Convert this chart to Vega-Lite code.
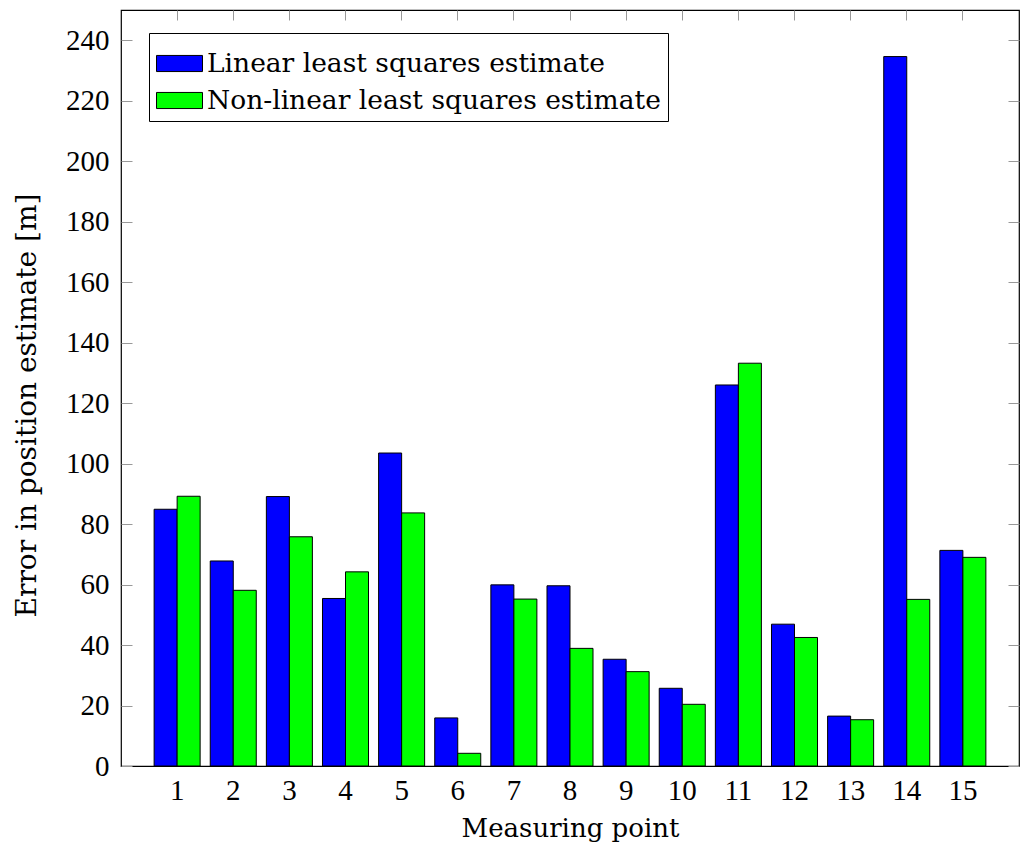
{
  "$schema": "https://vega.github.io/schema/vega-lite/v6.json",
  "autosize": "none",
  "width": 898,
  "height": 756,
  "padding": {"left": 121, "top": 10, "right": 2, "bottom": 83},
  "background": "white",
  "config": {
    "font": "DejaVu Serif",
    "view": {"stroke": "black", "strokeWidth": 1.2},
    "axis": {"labelFont": "Liberation Serif", "titleFont": "DejaVu Serif", "labelFontSize": 29, "titleFontSize": 26, "titleFontWeight": "normal", "labelColor": "black", "titleColor": "black", "domain": false, "grid": false}
  },
  "data": {
    "values": [
      {"point": 1, "method": "Linear least squares estimate", "error": 84.9},
      {"point": 1, "method": "Non-linear least squares estimate", "error": 89.2},
      {"point": 2, "method": "Linear least squares estimate", "error": 67.8},
      {"point": 2, "method": "Non-linear least squares estimate", "error": 58.1},
      {"point": 3, "method": "Linear least squares estimate", "error": 89.1},
      {"point": 3, "method": "Non-linear least squares estimate", "error": 75.8},
      {"point": 4, "method": "Linear least squares estimate", "error": 55.4},
      {"point": 4, "method": "Non-linear least squares estimate", "error": 64.2},
      {"point": 5, "method": "Linear least squares estimate", "error": 103.5},
      {"point": 5, "method": "Non-linear least squares estimate", "error": 83.7},
      {"point": 6, "method": "Linear least squares estimate", "error": 15.9},
      {"point": 6, "method": "Non-linear least squares estimate", "error": 4.2},
      {"point": 7, "method": "Linear least squares estimate", "error": 59.9},
      {"point": 7, "method": "Non-linear least squares estimate", "error": 55.2},
      {"point": 8, "method": "Linear least squares estimate", "error": 59.6},
      {"point": 8, "method": "Non-linear least squares estimate", "error": 38.9},
      {"point": 9, "method": "Linear least squares estimate", "error": 35.3},
      {"point": 9, "method": "Non-linear least squares estimate", "error": 31.2},
      {"point": 10, "method": "Linear least squares estimate", "error": 25.7},
      {"point": 10, "method": "Non-linear least squares estimate", "error": 20.4},
      {"point": 11, "method": "Linear least squares estimate", "error": 126.0},
      {"point": 11, "method": "Non-linear least squares estimate", "error": 133.2},
      {"point": 12, "method": "Linear least squares estimate", "error": 46.9},
      {"point": 12, "method": "Non-linear least squares estimate", "error": 42.5},
      {"point": 13, "method": "Linear least squares estimate", "error": 16.5},
      {"point": 13, "method": "Non-linear least squares estimate", "error": 15.3},
      {"point": 14, "method": "Linear least squares estimate", "error": 234.6},
      {"point": 14, "method": "Non-linear least squares estimate", "error": 55.1},
      {"point": 15, "method": "Linear least squares estimate", "error": 71.3},
      {"point": 15, "method": "Non-linear least squares estimate", "error": 69.0}
    ]
  },
  "layer": [
    {
      "mark": {"type": "bar", "stroke": "black", "strokeWidth": 1},
      "encoding": {
        "x": {"field": "point", "type": "ordinal", "scale": {"paddingInner": 0.18, "paddingOuter": 0.59}, "axis": {"orient": "bottom", "labelAngle": 0, "title": "Measuring point", "ticks": false, "labelPadding": 10, "titlePadding": 10}},
        "xOffset": {"field": "method", "type": "nominal", "scale": {"paddingInner": 0, "paddingOuter": 0}},
        "y": {"field": "error", "type": "quantitative", "scale": {"domain": [0, 250], "nice": false}, "axis": {"orient": "left", "values": [0, 20, 40, 60, 80, 100, 120, 140, 160, 180, 200, 220, 240], "tickSize": -11, "tickColor": "#999999", "labelPadding": 23, "title": "Error in position estimate [m]", "titleFontSize": 28, "titlePadding": 24, "titleY": 395}},
        "color": {"field": "method", "type": "nominal", "scale": {"domain": ["Linear least squares estimate", "Non-linear least squares estimate"], "range": ["#0000ff", "#00ff00"]}, "legend": {"title": null, "orient": "none", "legendX": 28, "legendY": 23, "strokeColor": "black", "fillColor": "white", "padding": 7, "labelFont": "DejaVu Serif", "labelFontSize": 26.5, "labelColor": "black", "symbolType": "M-1,-0.35H1V0.35H-1Z", "symbolSize": 2116, "symbolStrokeColor": "black", "symbolStrokeWidth": 1, "symbolOpacity": 1, "labelOffset": 4, "rowPadding": 0, "labelLimit": 700}}
      }
    },
    {
      "mark": {"type": "bar", "opacity": 0},
      "encoding": {
        "x": {"field": "point", "type": "ordinal", "axis": {"orient": "top", "labels": false, "title": null, "tickSize": -10, "tickColor": "#999999"}},
        "xOffset": {"field": "method", "type": "nominal"},
        "y": {"field": "error", "type": "quantitative", "axis": {"orient": "right", "labels": false, "title": null, "values": [0, 20, 40, 60, 80, 100, 120, 140, 160, 180, 200, 220, 240], "tickSize": -11, "tickColor": "#999999"}}
      }
    }
  ],
  "resolve": {"axis": {"x": "independent", "y": "independent"}}
}
